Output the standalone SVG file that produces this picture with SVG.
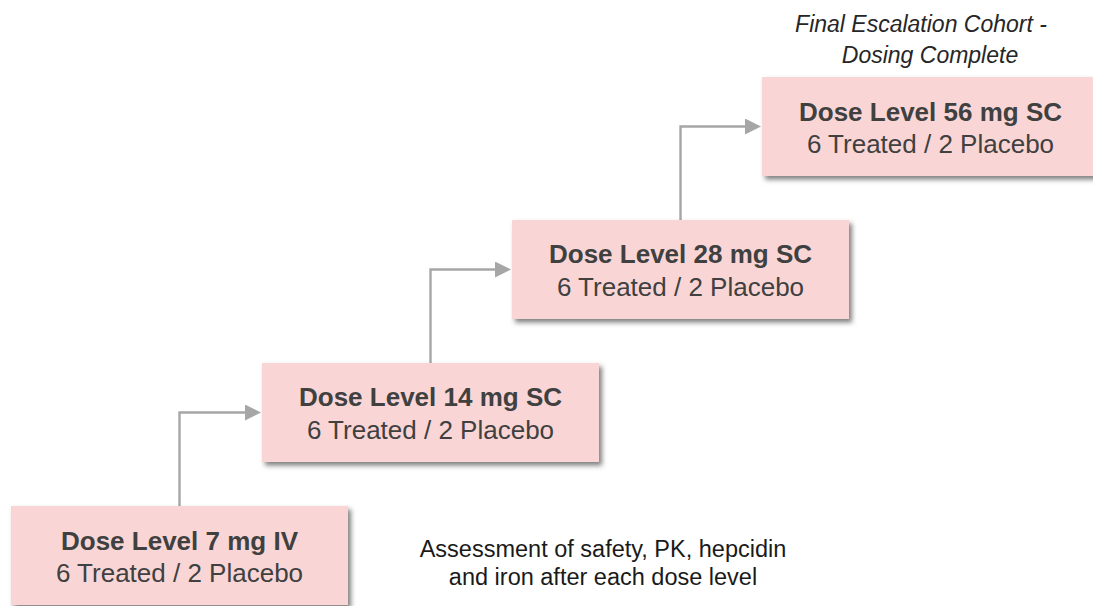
<svg xmlns="http://www.w3.org/2000/svg" width="1093" height="606" viewBox="0 0 1093 606">
  <style>
    .box { fill: #f9d6d5; filter: url(#shadow); }
    .title { font-family: "Liberation Sans", Arial, sans-serif; font-size: 26px; font-weight: bold; fill: #404040; text-anchor: middle; }
    .sub { font-family: "Liberation Sans", Arial, sans-serif; font-size: 26px; fill: #404040; text-anchor: middle; }
    .note { font-family: "Liberation Sans", Arial, sans-serif; font-size: 23.5px; fill: #1a1a1a; text-anchor: middle; }
    .tag { font-family: "Liberation Sans", Arial, sans-serif; font-size: 23px; font-style: italic; fill: #262626; text-anchor: middle; }
    .conn { fill: none; stroke: #a6a6a6; stroke-width: 2.4; }
  </style>
  <defs>
    <filter id="shadow" x="-10%" y="-10%" width="125%" height="130%">
      <feDropShadow dx="3" dy="3.5" stdDeviation="2.6" flood-color="#000" flood-opacity="0.5"/>
    </filter>
    <marker id="arrow" viewBox="0 0 16 16" refX="6" refY="8" markerWidth="16" markerHeight="16" markerUnits="userSpaceOnUse" orient="auto">
      <path d="M0,0 L16,8 L0,16 Z" fill="#a6a6a6"/>
    </marker>
  </defs>

  <g id="connectors">
    <path class="conn" d="M179.5,506 V412.5 H251" marker-end="url(#arrow)"/>
    <path class="conn" d="M430.5,363 V269.5 H501" marker-end="url(#arrow)"/>
    <path class="conn" d="M680.5,220 V126.5 H751" marker-end="url(#arrow)"/>
  </g>

  <g id="dose-7">
    <rect class="box" x="11" y="506" width="337" height="99"/>
    <text class="title" x="179.5" y="550">Dose Level 7 mg IV</text>
    <text class="sub" x="179.5" y="582">6 Treated / 2 Placebo</text>
  </g>

  <g id="dose-14">
    <rect class="box" x="262" y="363" width="337" height="99"/>
    <text class="title" x="430.5" y="406">Dose Level 14 mg SC</text>
    <text class="sub" x="430.5" y="439">6 Treated / 2 Placebo</text>
  </g>

  <g id="dose-28">
    <rect class="box" x="512" y="220" width="337" height="99"/>
    <text class="title" x="680.5" y="263">Dose Level 28 mg SC</text>
    <text class="sub" x="680.5" y="296">6 Treated / 2 Placebo</text>
  </g>

  <g id="dose-56">
    <rect class="box" x="762" y="77" width="337" height="99"/>
    <text class="title" x="930.5" y="121">Dose Level 56 mg SC</text>
    <text class="sub" x="930.5" y="153">6 Treated / 2 Placebo</text>
  </g>

  <g id="final-label">
    <text class="tag" x="921" y="32">Final Escalation Cohort -</text>
    <text class="tag" x="930" y="63">Dosing Complete</text>
  </g>

  <g id="assessment-note">
    <text class="note" x="603" y="557">Assessment of safety, PK, hepcidin</text>
    <text class="note" x="603" y="585">and iron after each dose level</text>
  </g>
</svg>
